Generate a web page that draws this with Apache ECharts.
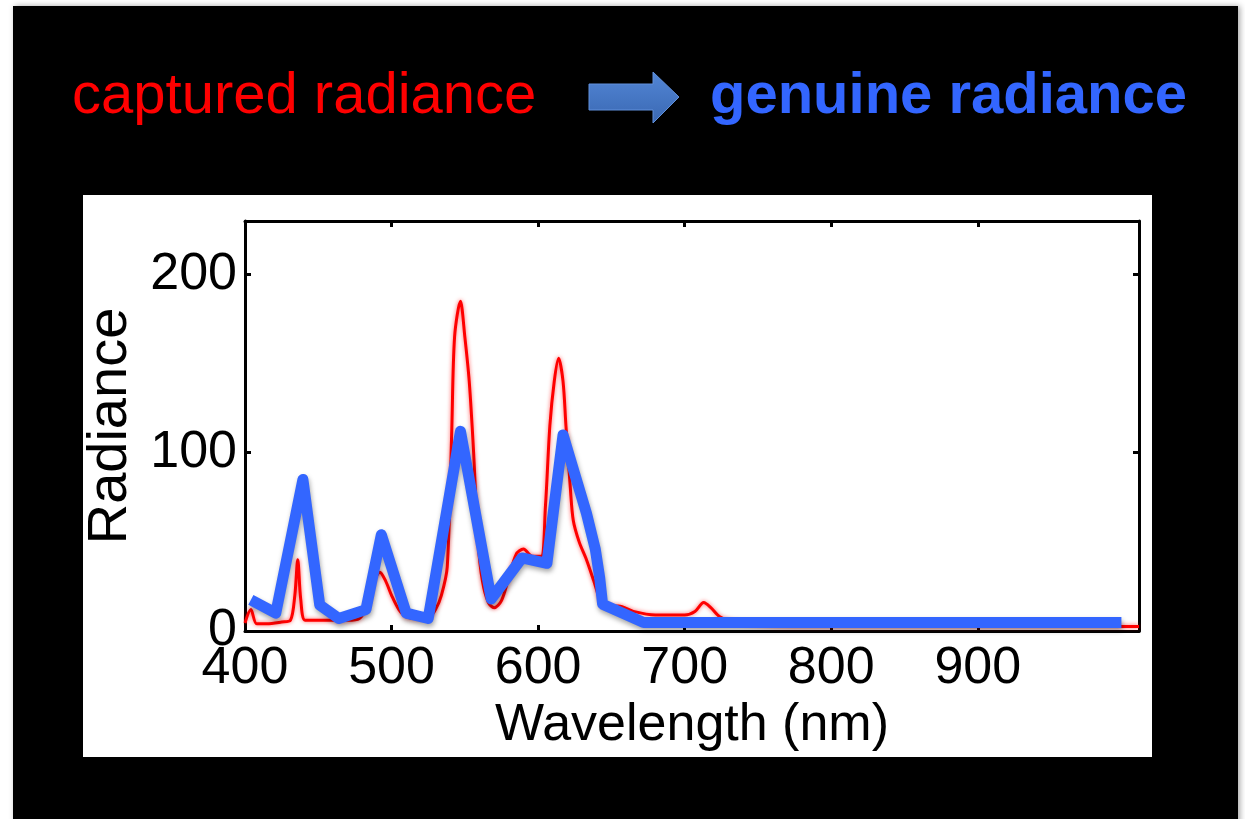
<!DOCTYPE html>
<html>
<head>
<meta charset="utf-8">
<script src="https://cdn.jsdelivr.net/npm/echarts@6/dist/echarts.min.js"></script>
<style>
html,body{margin:0;padding:0;background:#fff;}
#c{width:1245px;height:819px;}
</style>
</head>
<body>
<div id="c"></div>
<script>
// ---- data ----
const capturedWavelength = [400,404,408,415,425,431,434,436,438,441,450,460,470,478,484,488,492,496,500,505,510,520,526,530,534,538,541,543,547,550,553,556,559,562,566,570,575,580,585,590,596,602,605,608,611,614,617,619,622,624,628,633,638,642,645,655,665,680,700,707,713,718,724,735,760,800,850,900,950,1000,1010];
const capturedRadiance   = [4.5,12,4,4,5,6,20,40,18,6,6,6,6,7,15,28,33,28,20,12,8,7,8,12,20,36,110,165,185,165,140,100,50,28,16,13,17,30,43,46,42,42,70,115,140,153,140,115,80,62,50,40,28,18,14,14,11,9,9,11,16,13,8,5,3,2.5,2.5,2.5,2.5,2.5,2.5];
const genuineWavelength  = [404,421,439.5,451,464,482.5,493,510,525,547,568,589,606,617,625,633,639,642,644,672,998];
const genuineRadiance    = [17.4,10,85,14.6,7,12,54,10,7,112,18,41,38,110,88,66,46,30,15,4.8,4.8];
const xLabels = [400,500,600,700,800,900];
const xTicks  = [500,600,700,800,900];
const yLabels = [0,100,200];
const titleLeft = 'captured radiance';
const titleRight = 'genuine radiance';
const xName = 'Wavelength (nm)';
const yName = 'Radiance';

const pairs = (xs, ys) => xs.map((x, i) => [x, ys[i]]);

const chart = echarts.init(document.getElementById('c'), null, {renderer: 'canvas'});
const FONT = '"Liberation Sans", Arial, Helvetica, sans-serif';
chart.setOption({
  animation: false,
  backgroundColor: '#ffffff',
  graphic: [
    {type: 'rect', z: -20, shape: {x: 13, y: 6, width: 1225, height: 820},
     style: {fill: '#000', shadowColor: 'rgba(0,0,0,0.35)', shadowBlur: 6, shadowOffsetX: 2}},
    {type: 'rect', z: -10, shape: {x: 83, y: 195, width: 1069, height: 562}, style: {fill: '#fff'}},
    {type: 'text', z: 5, x: 72, y: 97,
     style: {text: titleLeft, fill: '#ff0000', font: 'normal 58px ' + FONT, verticalAlign: 'middle', align: 'left'}},
    {type: 'text', z: 5, x: 710, y: 97,
     style: {text: titleRight, fill: '#3366ff', font: 'bold 58px ' + FONT, verticalAlign: 'middle', align: 'left'}},
    {type: 'polygon', z: 5,
     shape: {points: [[589,84],[653,84],[653,72],[679,97],[653,123],[653,110],[589,110]]},
     style: {
       fill: {type: 'linear', x: 0, y: 0, x2: 0, y2: 1,
              colorStops: [{offset: 0, color: '#5286d6'}, {offset: 1, color: '#3a68b2'}]},
       stroke: '#6090dc', lineWidth: 1
     }}
  ],
  grid: {left: 245, top: 221, right: 106, bottom: 188, show: false},
  xAxis: [
    {
      type: 'value', position: 'bottom', min: 400, max: 1010, interval: 100,
      name: xName, nameLocation: 'middle', nameGap: 69,
      nameTextStyle: {fontSize: 52, color: '#000', fontFamily: FONT, lineHeight: 52},
      axisLine: {show: true, lineStyle: {color: '#000', width: 3}},
      axisTick: {show: true, inside: true, length: 6, customValues: xTicks, lineStyle: {color: '#000', width: 3}},
      axisLabel: {show: true, customValues: xLabels, margin: 12, fontSize: 52, color: '#000', fontFamily: FONT, lineHeight: 52},
      splitLine: {show: false}
    },
    {
      type: 'value', position: 'top', min: 400, max: 1010, interval: 100,
      axisLine: {show: true, onZero: false, lineStyle: {color: '#000', width: 3}},
      axisTick: {show: true, inside: true, length: 6, customValues: xTicks, lineStyle: {color: '#000', width: 3}},
      axisLabel: {show: false},
      splitLine: {show: false}
    }
  ],
  yAxis: [
    {
      type: 'value', position: 'left', min: 0, max: 230, interval: 100,
      name: yName, nameLocation: 'middle', nameGap: 106, nameRotate: 90,
      nameTextStyle: {fontSize: 56, color: '#000', fontFamily: FONT, lineHeight: 56},
      axisLine: {show: true, lineStyle: {color: '#000', width: 3}},
      axisTick: {show: true, inside: true, length: 6, customValues: [100, 200], lineStyle: {color: '#000', width: 3}},
      axisLabel: {show: true, customValues: yLabels, margin: 8, fontSize: 52, color: '#000', fontFamily: FONT, lineHeight: 52},
      splitLine: {show: false}
    },
    {
      type: 'value', position: 'right', min: 0, max: 230, interval: 100,
      axisLine: {show: true, onZero: false, lineStyle: {color: '#000', width: 3}},
      axisTick: {show: true, inside: true, length: 6, customValues: [100, 200], lineStyle: {color: '#000', width: 3}},
      axisLabel: {show: false},
      splitLine: {show: false}
    }
  ],
  series: [
    {
      name: titleLeft, type: 'line', xAxisIndex: 0, yAxisIndex: 0,
      data: pairs(capturedWavelength, capturedRadiance),
      showSymbol: false, symbol: 'none', smooth: 0.3, clip: true,
      lineStyle: {color: '#ff0000', width: 3, shadowColor: 'rgba(255,0,0,0.6)', shadowBlur: 4},
      z: 3
    },
    {
      name: titleRight, type: 'line', xAxisIndex: 0, yAxisIndex: 0,
      data: pairs(genuineWavelength, genuineRadiance),
      showSymbol: false, symbol: 'none', smooth: false, clip: true,
      lineStyle: {color: '#3366ff', width: 11, cap: 'butt', join: 'round',
                  shadowColor: 'rgba(0,0,0,0.35)', shadowBlur: 5, shadowOffsetX: 1, shadowOffsetY: 3},
      z: 4
    }
  ]
});
</script>
</body>
</html>
